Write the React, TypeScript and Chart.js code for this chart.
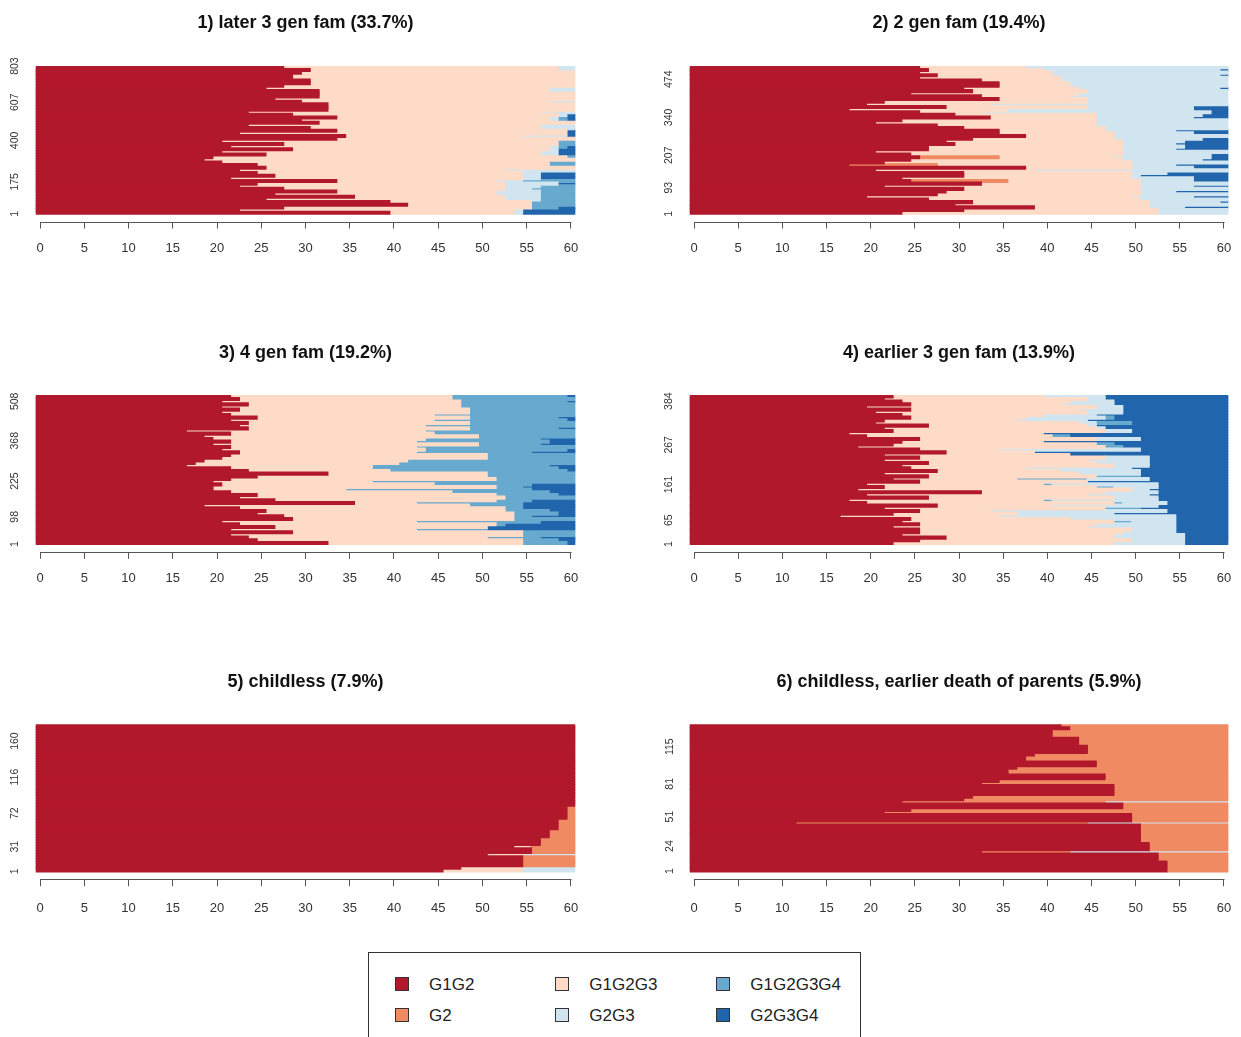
import React, { useEffect, useRef } from "react";
import { Chart, registerables } from "chart.js";

Chart.register(...registerables);

const FONT = '"Liberation Sans", Arial, Helvetica, sans-serif';

// ---- states ----
const stateCodes = ["A", "B", "C", "D", "E", "F"];
const stateLabels = ["G1G2", "G2", "G1G2G3", "G2G3", "G1G2G3G4", "G2G3G4"];
const stateColors = ["#B2182B", "#EF8A62", "#FDDBC7", "#D1E5F0", "#67A9CF", "#2166AC"];

// ---- x axis (age) ----
const ageTicks = [0, 5, 10, 15, 20, 25, 30, 35, 40, 45, 50, 55, 60];
const ageColumns = 61;

// ---- panels ----
const panelTitles = [
  "1) later 3 gen fam (33.7%)",
  "2) 2 gen fam (19.4%)",
  "3) 4 gen fam (19.2%)",
  "4) earlier 3 gen fam (13.9%)",
  "5) childless (7.9%)",
  "6) childless, earlier death of parents (5.9%)",
];
const panelSizes = [803, 520, 530, 400, 180, 135];

const panel1YTicks = [1, 175, 400, 607, 803];
const panel2YTicks = [1, 93, 207, 340, 474];
const panel3YTicks = [1, 98, 225, 368, 508];
const panel4YTicks = [1, 65, 161, 267, 384];
const panel5YTicks = [1, 31, 72, 116, 160];
const panel6YTicks = [1, 24, 51, 81, 115];

// Rows listed from top to bottom. Each token: state code + age (column) at which the spell ends;
// the last spell runs to the end. "n*" repeats a row n times.
const panel1Rows = [
  "A28 C59 D", "A31 C59 D", "A30 C", "A29 C", "A29 C", "A31 C", "A31 C", "A28 C",
  "A26 C58 D", "A32 C58 D", "A32 C", "A32 C", "A27 C", "A30 C58 D", "A33 C", "A33 C",
  "A33 C", "A24 C57 D", "A29 C59 D60 F", "A34 C58 D59 E60 F", "A30 C58 D59 E60 F", "A32 C", "A24 C57 D", "A31 C57 D",
  "A34 C60 F", "A23 C60 F", "A35 C55 D60 F", "A34 C", "A21 C59 E", "A28 C59 E", "A22 C58 D59 E60 F", "A29 C58 D59 F",
  "A21 C57 D59 F", "A26 C57 D59 F", "A20 C60 E", "A19 C", "A21 C58 E", "A25 C58 E", "A26 C", "A23 C53 D",
  "A25 C55 D57 F", "A27 C55 D57 F", "A22 C55 D57 F", "A34 C52 D55 E", "A25 C53 D59 F", "A23 C53 D57 E", "A28 C53 D56 E", "A34 C52 D57 E",
  "A27 C52 D57 E", "A36 C53 D57 E", "A26 C53 D57 E", "A40 C56 E", "A42 C56 E", "A28 C56 E59 F", "A23 C54 D55 F", "A40 C54 D55 F",
];

const panel2Rows = [
  "A26 C38 D", "A27 C40 D60 F", "A26 C41 D", "A28 C41 D60 F", "A26 C42 D", "A33 C42 D", "A35 C43 D", "A35 C43 D",
  "A31 C44 D60 F", "A32 C45 D", "A25 C44 D", "A33 C43 D", "A35 C45 D", "A22 C45 D", "A20 C34 D", "A29 C45 D57 F",
  "A18 C36 D57 F", "A26 C33 D59 F", "A30 C46 D58 F", "A34 C46 D57 F", "A24 C46 D", "A21 C46 D", "A28 C46 D", "A31 C47 D",
  "A35 C47 D55 F", "A35 C48 D57 F", "A38 C48 D", "A32 C48 D58 F", "A29 C49 D56 F", "A30 C49 D55 F", "A27 C49 D56 F", "A27 C49 D55 F",
  "A21 C49 D", "A25 C49 D59 F", "A26 B35 C48 D59 F", "A25 C49 D58 F", "A22 C50 D", "A18 B28 C50 D55 F", "A38 C50 D57 F", "A21 C39 D",
  "A31 C50 D54 F", "A31 C50 D51 F", "A24 C50 D57 F", "A25 B36 C51 D57 F", "A33 C51 D", "A22 C51 D57 F", "A31 C51 D", "A29 C51 D55 F",
  "A28 C51 D", "A20 C50 D57 F", "A27 C51 D", "A32 C52 D60 F", "A30 C52 D", "A39 C52 D56 F", "A31 C53 D", "A24 C53 D",
];

const panel3Rows = [
  "A22 C47 E60 F", "A23 C47 E", "A21 C48 E60 F", "A24 C48 E", "A21 C48 E", "A23 C49 E", "A21 C49 E", "A22 C45 E",
  "A25 C49 E59 F", "A22 C45 E60 F", "A24 C49 E", "A23 C44 E", "A24 C49 E59 F", "A17 C44 E", "A22 C45 E", "A19 C50 E",
  "A20 C44 E57 F", "A22 C43 E58 F", "A20 C50 E57 F", "A22 C43 E", "A21 C44 E60 F", "A23 C43 E56 F", "A22 C51 E", "A21 C51 E",
  "A19 C42 E", "A18 C41 E", "A17 C38 E58 F", "A22 C38 E59 F", "A24 C40 E60 F", "A33 C51 E", "A25 C51 E", "A22 C52 E",
  "A20 C38 E", "A21 C45 E56 F", "A20 C52 E55 F", "A20 C35 E56 F", "A22 C47 E58 F", "A25 C52 E59 F", "A23 C53 E", "A27 C52 E56 F",
  "A36 C43 E55 F", "A19 C49 E55 F", "A23 C53 E55 F", "A26 C53 E58 F", "A25 C54 E59 F", "A28 C54 E56 F", "A29 C54 E", "A21 C43 E57 F",
  "A23 C52 E53 F", "A27 C51 F", "A22 C43 E51 F", "A29 C55 E", "A22 C55 E", "A24 C51 E57 F", "A25 C55 E59 F", "A33 C55 E60 F",
];

const panel4Rows = [
  "A23 C40 D47 F", "A22 C45 D47 F", "A24 C43 D48 F", "A25 C42 D48 F", "A20 C46 D49 F", "A25 C44 D49 F", "A21 C45 D49 F", "A24 C40 D46 F",
  "A25 C38 D47 E48 F", "A22 C37 D45 F", "A21 C44 D46 E50 F", "A27 C45 D46 F", "A22 C46 D47 F", "A23 C47 D50 F", "A18 C40 F", "A20 C41 E43 F",
  "A26 C46 D51 F", "A24 C40 F", "A23 C46 E48 F", "A19 C47 E49 F", "A26 C35 D51 F", "A29 C39 F", "A22 C43 F", "A26 C47 D52 F",
  "A22 C45 D52 F", "A27 C46 D52 F", "A24 C48 D52 F", "A25 C38 D50 F", "A28 C42 D51 F", "A22 C44 D51 F", "A27 C46 E51 F", "A23 C37 E45 D52 F",
  "A26 C45 F", "A20 C40 E41 D53 F", "A22 C46 E48 D53 F", "A19 C50 D52 F", "A33 C47 D53 F", "A20 C45 D52 F", "A27 C48 D53 F", "A18 C40 E41 D53 F",
  "A20 C48 E49 D54 F", "A28 C41 D53 F", "A22 C47 E51 F", "A26 C34 D54 F", "A23 C37 D48 F", "A17 C35 D55 F", "A25 C43 D55 F", "A24 C48 E50 D55 F",
  "A26 C46 D55 F", "A23 C45 D55 F", "A26 C50 D55 F", "A26 C49 D55 F", "A24 C48 D56 F", "A29 C48 D56 F", "A26 C50 D56 F", "A23 C48 D56 F",
];

const panel5Rows = [
  "31*A", "5*A60 B", "4*A59 B", "3*A58 B", "3*A57 B", "A54 C56 B", "2*A56 B", "A51 C55 D", "4*A55 B", "A48 C55 D", "A46 C55 D",
];

const panel6Rows = [
  "A42 B", "A43 B", "3*A41 B", "3*A44 B", "3*A45 B", "A39 B", "2*A38 B", "2*A46 B", "A37 B", "2*A36 B", "2*A47 B",
  "A35 B", "A33 B", "4*A48 B", "A32 B", "A31 B", "A24 B47 D", "2*A49 B", "A25 B", "A22 B", "3*A50 B", "A12 B45 D",
  "7*A51 B", "3*A52 B", "A33 B43 D", "3*A53 B", "4*A54 B",
];

// ---- layout ----
const COLS = [
  { canvasLeft: 0, canvasWidth: 611, plotLeft: 35.6, plotRight: 575.4 },
  { canvasLeft: 654, canvasWidth: 587, plotLeft: 689.6, plotRight: 1228.4 },
];
const ROWS = [
  { canvasTop: 0, titleY: 23, plotTop: 66, plotBottom: 214, labelY: 248 },
  { canvasTop: 330, titleY: 353, plotTop: 395, plotBottom: 544.3, labelY: 578 },
  { canvasTop: 659, titleY: 682, plotTop: 724.3, plotBottom: 871.7, labelY: 908 },
];
const CANVAS_H = 300;
const AXIS_GAP = 7.5;
const TITLE_SIZE = 18;
const TICK_SIZE = 13;
const YTICK_SIZE = 10.5;
const Y_LABEL_X = 15.5;
const LEGEND_SIZE = 17;

function expandRows(rows: string[]): string[] {
  const out: string[] = [];
  rows.forEach((r) => {
    const m = r.match(/^(\d+)\*(.*)$/);
    if (m) {
      const n = parseInt(m[1], 10);
      for (let i = 0; i < n; i++) out.push(m[2]);
    } else out.push(r);
  });
  return out;
}

function parseRow(row: string) {
  const spells: { state: number; start: number; end: number }[] = [];
  let start = 0;
  row.trim().split(/\s+/).forEach((tok) => {
    const state = stateCodes.indexOf(tok[0]);
    const end = tok.length > 1 ? parseInt(tok.slice(1), 10) : ageColumns;
    spells.push({ state, start, end });
    start = end;
  });
  return spells;
}

const axisLinePlugin = {
  id: "rAxisLine",
  afterDraw(chart: any) {
    const xs = chart.scales.x;
    const ctx = chart.ctx;
    const y = Math.round(chart.chartArea.bottom) + 0.5;
    ctx.save();
    ctx.strokeStyle = "#555";
    ctx.lineWidth = 1;
    ctx.beginPath();
    ctx.moveTo(Math.round(xs.getPixelForValue(ageTicks[0])) + 0.5, y);
    ctx.lineTo(Math.round(xs.getPixelForValue(ageTicks[ageTicks.length - 1])) + 0.5, y);
    ctx.stroke();
    ctx.restore();
  },
};

type PanelProps = {
  title: string;
  size: number;
  yTicks: number[];
  rows: string[];
  col: number;
  row: number;
};

function SequencePanel({ title, size, yTicks, rows, col, row }: PanelProps) {
  const ref = useRef<HTMLCanvasElement | null>(null);
  const c = COLS[col];
  const r = ROWS[row];
  useEffect(() => {
    if (!ref.current) return;
    const expanded = expandRows(rows);
    const n = expanded.length;
    const plotH = r.plotBottom - r.plotTop;
    const bandPx = plotH / n;
    const datasets = stateCodes.map((code, si) => ({
      label: stateLabels[si],
      backgroundColor: stateColors[si],
      data: [] as any[],
      grouped: false,
      barThickness: bandPx + 0.8,
      borderWidth: 0,
      categoryPercentage: 1,
      barPercentage: 1,
    }));
    expanded.forEach((rowStr, i) => {
      const yCenter = (size * (n - 0.5 - i)) / n;
      parseRow(rowStr).forEach((sp) => {
        const e = sp.end >= ageColumns ? sp.end - 0.5 : sp.end - 0.5 + 0.06;
        datasets[sp.state].data.push({ x: [sp.start - 0.5, e], y: yCenter });
      });
    });

    const plotTopRel = r.plotTop - r.canvasTop;
    const titleYRel = r.titleY - r.canvasTop;
    const axisYRel = r.plotBottom + AXIS_GAP - r.canvasTop;
    const labelYRel = r.labelY - r.canvasTop;
    const titleLH = TITLE_SIZE * 1.2;
    const tickLH = TICK_SIZE * 1.2;
    const plotLeftRel = c.plotLeft - c.canvasLeft;
    const plotRightRel = c.plotRight - c.canvasLeft;
    const yMin = (-size * AXIS_GAP) / plotH;
    const yWidest = 3 * 0.556 * YTICK_SIZE;

    const chart = new Chart(ref.current, {
      type: "bar",
      data: { datasets: datasets as any },
      plugins: [axisLinePlugin],
      options: {
        animation: false,
        responsive: false,
        maintainAspectRatio: false,
        devicePixelRatio: 1,
        indexAxis: "y",
        events: [],
        layout: { padding: { left: 0, right: c.canvasWidth - plotRightRel, top: 0, bottom: 0 } },
        plugins: {
          legend: { display: false },
          tooltip: { enabled: false },
          title: {
            display: true,
            text: title,
            fullSize: false,
            color: "#111",
            font: { family: FONT, size: TITLE_SIZE, weight: "bold" },
            padding: {
              top: titleYRel - titleLH / 2,
              bottom: plotTopRel - titleYRel - titleLH / 2,
            },
          },
        },
        scales: {
          x: {
            type: "linear",
            offset: false,
            min: -0.5,
            max: ageColumns - 0.5,
            afterBuildTicks: (s: any) => {
              s.ticks = ageTicks.map((v) => ({ value: v }));
            },
            afterFit: (s: any) => {
              s.height = CANVAS_H - axisYRel;
              s.paddingLeft = 0;
              s.paddingRight = 0;
            },
            ticks: {
              autoSkip: false,
              maxRotation: 0,
              minRotation: 0,
              color: "#333",
              font: { family: FONT, size: TICK_SIZE },
              padding: labelYRel - axisYRel - 7 - tickLH / 2,
              callback: (v: any) => String(v),
            },
            grid: { offset: false, drawOnChartArea: false, drawTicks: true, tickLength: 7, color: "#555", lineWidth: 1 },
            border: { display: false },
          },
          y: {
            type: "linear",
            offset: false,
            min: yMin,
            max: size,
            afterBuildTicks: (s: any) => {
              s.ticks = yTicks.map((v) => ({ value: v - 0.5 }));
            },
            afterFit: (s: any) => {
              s.width = plotLeftRel;
              s.paddingTop = 0;
              s.paddingBottom = 0;
            },
            ticks: {
              autoSkip: false,
              minRotation: 90,
              maxRotation: 90,
              crossAlign: "center",
              color: "#333",
              font: { family: FONT, size: YTICK_SIZE },
              padding: plotLeftRel - Y_LABEL_X - yWidest / 2,
              callback: (v: any) => String(Math.round(Number(v) + 0.5)),
            },
            grid: { offset: false, display: false, drawTicks: false },
            border: { display: false },
          },
        },
      } as any,
    });
    return () => chart.destroy();
  }, []);
  return (
    <canvas
      ref={ref}
      width={c.canvasWidth}
      height={CANVAS_H}
      style={{
        position: "absolute",
        left: c.canvasLeft,
        top: r.canvasTop,
        width: c.canvasWidth,
        height: CANVAS_H,
        display: "block",
      }}
    />
  );
}

function Legend() {
  const colLefts = [25.7, 186, 347];
  const textOffset = 34.3;
  const rowCenters = [30.5, 61.5];
  return (
    <div
      style={{
        position: "absolute",
        left: 368,
        top: 952,
        width: 493,
        height: 120,
        border: "1px solid #333",
        boxSizing: "border-box",
        background: "#fff",
      }}
    >
      {stateLabels.map((lab, i) => {
        const cx = colLefts[Math.floor(i / 2)];
        const cy = rowCenters[i % 2];
        return (
          <React.Fragment key={lab}>
            <div
              style={{
                position: "absolute",
                left: cx,
                top: cy - 7,
                width: 14,
                height: 14,
                boxSizing: "border-box",
                border: "1px solid #333",
                background: stateColors[i],
              }}
            />
            <div
              style={{
                position: "absolute",
                left: cx + textOffset,
                top: cy,
                transform: "translateY(-50%)",
                fontFamily: FONT,
                fontSize: LEGEND_SIZE,
                lineHeight: 1,
                color: "#222",
                whiteSpace: "nowrap",
              }}
            >
              {lab}
            </div>
          </React.Fragment>
        );
      })}
    </div>
  );
}

export default function App() {
  const panelRows = [panel1Rows, panel2Rows, panel3Rows, panel4Rows, panel5Rows, panel6Rows];
  const panelTicks = [panel1YTicks, panel2YTicks, panel3YTicks, panel4YTicks, panel5YTicks, panel6YTicks];
  return (
    <div
      style={{
        position: "absolute",
        left: 0,
        top: 0,
        width: 1241,
        height: 1037,
        overflow: "hidden",
        background: "#fff",
      }}
    >
      {panelTitles.map((t, i) => (
        <SequencePanel
          key={t}
          title={t}
          size={panelSizes[i]}
          yTicks={panelTicks[i]}
          rows={panelRows[i]}
          col={i % 2}
          row={Math.floor(i / 2)}
        />
      ))}
      <Legend />
    </div>
  );
}
